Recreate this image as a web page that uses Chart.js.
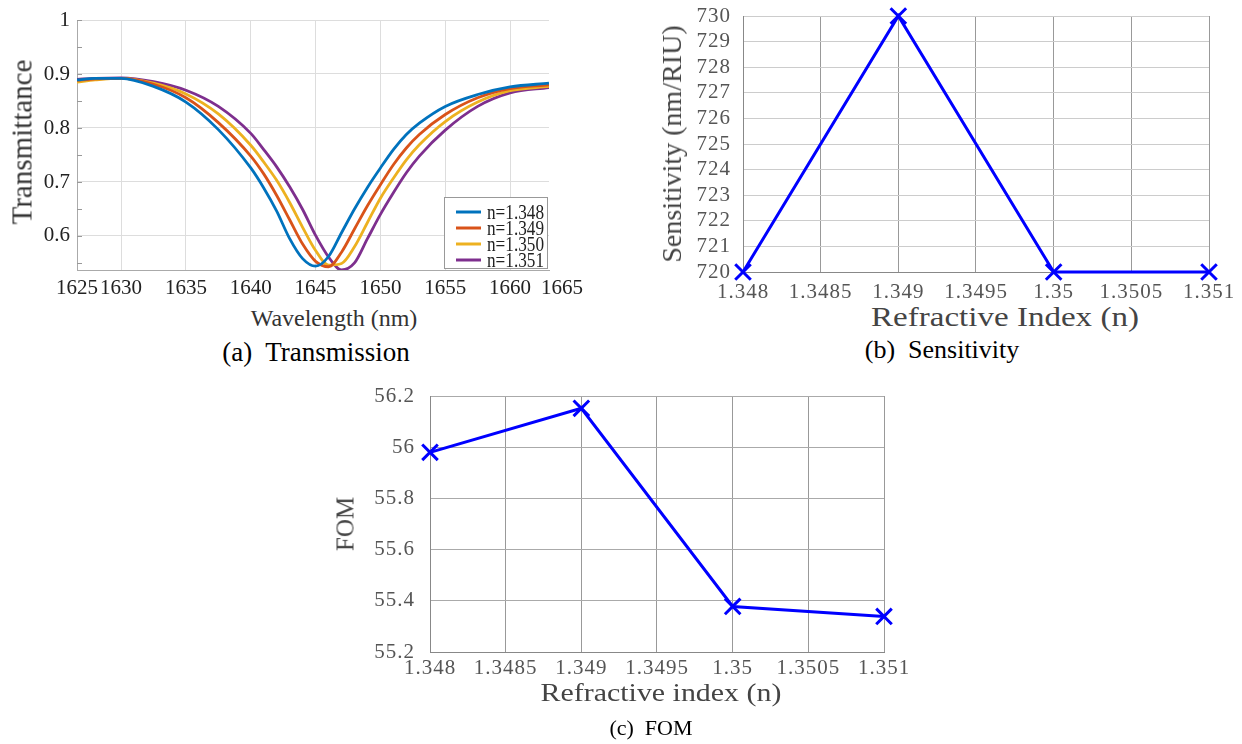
<!DOCTYPE html>
<html><head><meta charset="utf-8">
<script src="https://cdn.jsdelivr.net/npm/chart.js@4.4.1/dist/chart.umd.min.js"></script>
<style>
body{margin:0;background:#fff;width:1242px;height:744px;position:relative;overflow:hidden;font-family:"Liberation Serif","Times New Roman",serif;}
canvas{position:absolute;}
.t{position:absolute;white-space:pre;line-height:1;transform:translate(-50%,-50%);font-family:"Liberation Serif","Times New Roman",serif;}
.r{transform:translate(-50%,-50%) rotate(-90deg);}
</style></head><body>
<canvas id="ca" width="600" height="300" style="left:0;top:0"></canvas>
<canvas id="cb" width="602" height="300" style="left:640px;top:0"></canvas>
<canvas id="cc" width="600" height="300" style="left:320px;top:380px"></canvas>

<div class="t r" style="left:22px;top:142px;font-size:29px;color:#333">Transmittance</div>
<div class="t" style="left:334px;top:318px;font-size:24px;color:#333">Wavelength (nm)</div>
<div class="t" style="left:316px;top:352px;font-size:27px;color:#000">(a)  Transmission</div>

<div class="t r" style="left:672px;top:144px;font-size:28px;color:#444">Sensitivity (nm/RIU)</div>
<div class="t" style="left:1005px;top:317px;font-size:28px;color:#444;transform:translate(-50%,-50%) scaleX(1.18)">Refractive Index (n)</div>
<div class="t" style="left:942px;top:350px;font-size:26px;color:#000">(b)  Sensitivity</div>

<div class="t r" style="left:345px;top:524px;font-size:25px;color:#444">FOM</div>
<div class="t" style="left:661px;top:693px;font-size:26px;color:#444;transform:translate(-50%,-50%) scaleX(1.15)">Refractive index (n)</div>
<div class="t" style="left:651px;top:728px;font-size:22px;color:#000">(c)  FOM</div>

<script>
// ---------- Panel (a) data ----------
const wavelengths = [1626.6,1628,1630,1632.5,1635,1637.5,1640,1641,1642,1643,1644,1645,1646,1647,1648,1649,1650,1651,1652,1653,1655,1657.5,1660,1663];
const tN1348 = [0.889,0.892,0.892,0.877,0.848,0.797,0.726,0.689,0.646,0.595,0.558,0.544,0.562,0.606,0.650,0.690,0.726,0.760,0.788,0.809,0.840,0.862,0.876,0.883];
const tN1349 = [0.888,0.891,0.892,0.881,0.856,0.810,0.748,0.715,0.675,0.630,0.585,0.553,0.543,0.570,0.613,0.656,0.695,0.732,0.763,0.788,0.825,0.856,0.873,0.880];
const tN1350 = [0.885,0.889,0.892,0.883,0.863,0.826,0.768,0.737,0.703,0.662,0.616,0.573,0.546,0.549,0.580,0.625,0.670,0.707,0.741,0.769,0.812,0.848,0.869,0.877];
const tN1351 = [0.890,0.892,0.893,0.886,0.870,0.840,0.790,0.760,0.728,0.691,0.649,0.601,0.561,0.537,0.550,0.595,0.640,0.680,0.717,0.748,0.796,0.840,0.865,0.875];
const seriesLabels = ['n=1.348','n=1.349','n=1.350','n=1.351'];
const seriesColors = ['#0072BD','#D95319','#EDB120','#7E2F8E'];
const xTicksA = [1626.6,1630,1635,1640,1645,1650,1655,1660,1664];
const xTickLabelsA = ['1625','1630','1635','1640','1645','1650','1655','1660','1665'];
const yTicksA = [0.55,0.6,0.65,0.7,0.75,0.8,0.85,0.9,0.95,1];
const yTickLabelsA = ['','0.6','','0.7','','0.8','','0.9','','1'];

// ---------- Panels (b), (c) data ----------
const refractiveIndex = [1.348,1.349,1.350,1.351];
const sensitivity = [720,730,720,720];
const fom = [55.98,56.152,55.378,55.339];
const xTicksBC = [1.348,1.3485,1.349,1.3495,1.35,1.3505,1.351];
const xTickLabelsBC = ['1.348','1.3485','1.349','1.3495','1.35','1.3505','1.351'];
const yTicksB = [720,721,722,723,724,725,726,727,728,729,730];
const yTickLabelsB = ['720','721','722','723','724','725','726','727','728','729','730'];
const yTicksC = [55.2,55.4,55.6,55.8,56,56.2];
const yTickLabelsC = ['55.2','55.4','55.6','55.8','56','56.2'];

const serif = '"Liberation Serif","Times New Roman",serif';
Chart.defaults.font.family = serif;

function setTicks(values){ return function(scale){ scale.ticks = values.map(v => ({value:v})); }; }
function labelsFrom(labels){ return function(v, i){ return labels[i]; }; }
function fixW(w){ return function(s){ s.width = w; s.paddingTop = 0; s.paddingBottom = 0; }; }
function fixH(h){ return function(s){ s.height = h; s.paddingLeft = 0; s.paddingRight = 0; }; }

const spacing = { id:'spacing', beforeDraw(chart, args, opts){ chart.ctx.letterSpacing = opts.value || '0px'; } };

// legend drawn inside plot area (bottom right) + minor y ticks
const insideLegend = {
  id:'insideLegend',
  afterDatasetsDraw(chart){
    const {ctx, chartArea:a, scales} = chart;
    ctx.save();
    ctx.strokeStyle = '#999'; ctx.lineWidth = 1;
    yTicksA.forEach(v => {
      const y = Math.round(scales.y.getPixelForValue(v)) + 0.5;
      ctx.beginPath(); ctx.moveTo(a.left, y); ctx.lineTo(a.left + 5, y); ctx.stroke();
    });
    const w = 103, h = 71;
    const x0 = a.right - w - 2, y0 = a.bottom - h - 2;
    ctx.fillStyle = '#fff'; ctx.fillRect(x0, y0, w, h);
    ctx.strokeStyle = '#999'; ctx.strokeRect(x0 + 0.5, y0 + 0.5, w, h);
    ctx.font = '21px ' + serif; ctx.textBaseline = 'middle'; ctx.textAlign = 'left';
    chart.data.datasets.forEach((ds, i) => {
      const yy = y0 + 15 + i * 16;
      ctx.strokeStyle = ds.borderColor; ctx.lineWidth = 3;
      ctx.beginPath(); ctx.moveTo(x0 + 12, yy); ctx.lineTo(x0 + 37, yy); ctx.stroke();
      ctx.fillStyle = '#222'; ctx.fillText(ds.label, x0 + 43, yy + 1, 57);
    });
    ctx.restore();
  }
};

const seriesA = [tN1348, tN1349, tN1350, tN1351];
new Chart(document.getElementById('ca'), {
  type:'line',
  data:{ datasets: seriesA.map((s, i) => ({
    label: seriesLabels[i],
    data: wavelengths.map((x, j) => ({x, y: s[j]})),
    borderColor: seriesColors[i], borderWidth: 2.8, pointRadius: 0,
    cubicInterpolationMode: 'monotone', fill: false
  }))},
  options:{
    responsive:false, animation:false, devicePixelRatio:1,
    layout:{padding:{top:20, right:51, left:0, bottom:0}},
    plugins:{legend:{display:false}, tooltip:{enabled:false}},
    scales:{
      x:{ type:'linear', min:1626.6, max:1663,
        afterBuildTicks:setTicks(xTicksA), afterFit:fixH(30),
        border:{color:'#aaa'},
        grid:{color:(c) => (c.index === 0 || c.index === xTicksA.length - 1 ? 'rgba(0,0,0,0)' : '#ddd'), drawTicks:false},
        ticks:{callback:labelsFrom(xTickLabelsA), autoSkip:false, maxRotation:0, padding:6,
               color:'#222', font:{family:serif, size:21}} },
      y:{ min:0.537, max:1,
        afterBuildTicks:setTicks(yTicksA), afterFit:fixW(77),
        border:{color:'#aaa'},
        grid:{color:(c) => (yTickLabelsA[c.index] ? '#ddd' : 'rgba(0,0,0,0)'), drawTicks:false},
        ticks:{callback:labelsFrom(yTickLabelsA), autoSkip:false, padding:7,
               color:'#222', font:{family:serif, size:21}} }
    }
  },
  plugins:[insideLegend]
});

function markerChart(id, values, yMin, yMax, yTicks, yLabels, yWidth, padRight, yPad, xPad, hGrid, vGrid){
  new Chart(document.getElementById(id), {
    type:'line',
    data:{ datasets:[{
      data: refractiveIndex.map((x, i) => ({x, y: values[i]})),
      borderColor:'#0000FF', backgroundColor:'#0000FF', borderWidth:3,
      pointStyle:'crossRot', pointRadius:11, pointBorderWidth:3, pointBorderColor:'#0000FF',
      tension:0, clip:false, fill:false
    }]},
    options:{
      responsive:false, animation:false, devicePixelRatio:1,
      layout:{padding:{top:16, right:padRight, left:0, bottom:0}},
      plugins:{legend:{display:false}, tooltip:{enabled:false}, spacing:{value:'1px'}},
      scales:{
        x:{ type:'linear', min:1.348, max:1.351,
          afterBuildTicks:setTicks(xTicksBC), afterFit:fixH(28),
          border:{color:'#888'},
          grid:{color:vGrid, drawTicks:false},
          ticks:{callback:labelsFrom(xTickLabelsBC), autoSkip:false, maxRotation:0, padding:xPad,
                 color:'#555', font:{family:serif, size:21}} },
        y:{ min:yMin, max:yMax,
          afterBuildTicks:setTicks(yTicks), afterFit:fixW(yWidth),
          border:{color:'#888'},
          grid:{color:hGrid, drawTicks:false},
          ticks:{callback:labelsFrom(yLabels), autoSkip:false, padding:yPad,
                 color:'#555', font:{family:serif, size:21}} }
      }
    },
    plugins:[spacing]
  });
}
markerChart('cb', sensitivity, 720, 730, yTicksB, yTickLabelsB, 103, 33, 12, 8, '#ccc', '#999');
markerChart('cc', fom, 55.2, 56.2, yTicksC, yTickLabelsC, 110, 36, 15, 4, '#aaa', '#999');
</script>
</body></html>
